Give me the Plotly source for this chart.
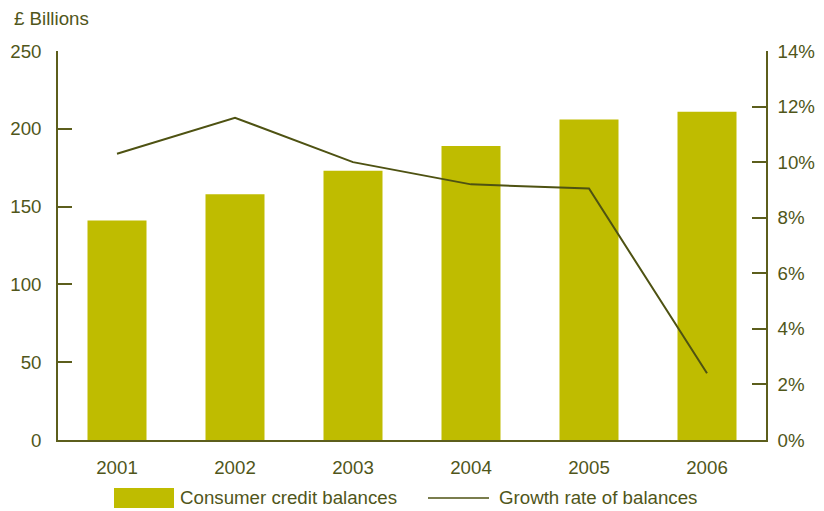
import plotly.graph_objects as go

years = ["2001", "2002", "2003", "2004", "2005", "2006"]
balances = [141, 158, 173, 189, 206, 211]          # £ billions
growth_pct = [10.3, 11.6, 10.0, 9.2, 9.05, 2.4]    # % growth rate

left_ticks = [0, 50, 100, 150, 200, 250]
right_ticks = [0, 2, 4, 6, 8, 10, 12, 14]
right_tick_labels = [f"{v}%" for v in right_ticks]

bar_color = "#bfbc00"
line_color = "#4e5212"
axis_color = "#5c5e1c"
text_color = "#50561a"
font_family = "Liberation Sans, Arial, Helvetica, sans-serif"
fs = 18.7

fig = go.Figure()
fig.add_trace(go.Bar(
    x=years, y=balances, name="Consumer credit balances",
    marker=dict(color=bar_color, line=dict(width=0)), width=0.5,
    yaxis="y",
))
fig.add_trace(go.Scatter(
    x=years, y=growth_pct, name="Growth rate of balances",
    mode="lines", line=dict(color=line_color, width=2),
    yaxis="y2",
))

fig.update_layout(
    width=824, height=511,
    margin=dict(l=58, r=58, t=51, b=71),
    paper_bgcolor="white", plot_bgcolor="white",
    showlegend=False,
    font=dict(family=font_family, size=fs, color=text_color),
    xaxis=dict(
        type="category", range=[-0.5, 5.5], automargin=False,
        showline=True, linecolor=axis_color, linewidth=1.5,
        ticks="", showgrid=False, ticklabelstandoff=10,
        tickfont=dict(size=fs, color=text_color),
    ),
    yaxis=dict(
        range=[0, 250], tickvals=left_ticks, automargin=False,
        showline=True, linecolor=axis_color, linewidth=1.5,
        ticks="inside", ticklen=14, tickwidth=1.5, tickcolor=axis_color,
        showgrid=False, zeroline=False, ticklabelstandoff=11,
        tickfont=dict(size=fs, color=text_color),
    ),
    yaxis2=dict(
        range=[0, 14], tickvals=right_ticks, ticktext=right_tick_labels,
        overlaying="y", side="right", automargin=False,
        showline=True, linecolor=axis_color, linewidth=1.5,
        ticks="inside", ticklen=14, tickwidth=1.5, tickcolor=axis_color,
        showgrid=False, zeroline=False, ticklabelstandoff=6,
        tickfont=dict(size=fs, color=text_color),
    ),
)

# Axis unit label
fig.add_annotation(
    text="£ Billions", xref="paper", yref="paper", x=(12 - 58) / 708, y=1.0,
    yshift=33, xanchor="left", yanchor="middle", showarrow=False,
    font=dict(size=fs, color=text_color),
)

# Legend drawn below the plot
leg_y = -(498 - 440) / 389
fig.add_shape(type="rect", xref="paper", yref="paper",
              x0=(114 - 58) / 708, x1=(174 - 58) / 708,
              y0=-(488 - 440) / 389, y1=-(508 - 440) / 389,
              fillcolor=bar_color, line=dict(width=0))
fig.add_annotation(text="Consumer credit balances", xref="paper", yref="paper",
                   x=(178 - 58) / 708, y=leg_y, xanchor="left", yanchor="middle",
                   showarrow=False, font=dict(size=fs, color=text_color))
fig.add_shape(type="line", xref="paper", yref="paper",
              x0=(428 - 58) / 708, x1=(489 - 58) / 708, y0=leg_y, y1=leg_y,
              line=dict(color=line_color, width=1.5))
fig.add_annotation(text="Growth rate of balances", xref="paper", yref="paper",
                   x=(497 - 58) / 708, y=leg_y, xanchor="left", yanchor="middle",
                   showarrow=False, font=dict(size=fs, color=text_color))

fig.write_html("out.html")
